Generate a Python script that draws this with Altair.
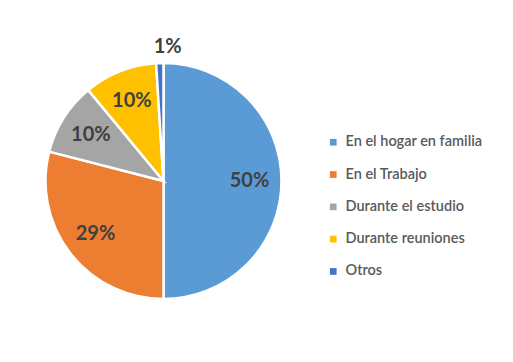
import altair as alt
import pandas as pd

categories = ["En el hogar en familia", "En el Trabajo", "Durante el estudio", "Durante reuniones", "Otros"]
values = [50, 29, 10, 10, 1]
labels = ["50%", "29%", "10%", "10%", "1%"]
colors = ["#5B9BD5", "#ED7D31", "#A5A5A5", "#FFC000", "#4472C4"]

df = pd.DataFrame({"cat": categories, "value": values, "label": labels, "idx": list(range(len(values)))})

FONT = "Lato"
cx, cy = 155.5, 173

base = alt.Chart(df).encode(
    theta=alt.Theta("value:Q", stack=True),
    order=alt.Order("idx:Q", sort="ascending"),
    x=alt.value(cx),
    y=alt.value(cy),
)

arcs = base.mark_arc(outerRadius=118, stroke="white", strokeWidth=2.5).encode(
    color=alt.Color(
        "cat:N",
        scale=alt.Scale(domain=categories, range=colors),
        sort=None,
        legend=alt.Legend(
            title=None,
            orient="none",
            legendX=318,
            legendY=127,
            symbolType="square",
            symbolSize=45,
            symbolStrokeWidth=0,
            labelFont=FONT,
            labelFontSize=14.5,
            labelColor="#595959",
            labelFontWeight=600,
            rowPadding=17.3,
            labelOffset=5,
        ),
    )
)

text_in = base.transform_filter("datum.value >= 5").mark_text(
    radius=86, font=FONT, fontSize=20, fontWeight="bold", color="#404040"
).encode(text="label:N")

text_out = base.transform_filter("datum.value < 5").mark_text(
    radius=134, font=FONT, fontSize=20, fontWeight="bold", color="#404040"
).encode(text="label:N")

chart = alt.layer(arcs, text_in, text_out).properties(
    width=497, height=346, padding=0,
    autosize=alt.AutoSizeParams(type="none"),
    background="white",
).configure_view(stroke=None)

chart.save("out.html", embed_options={"renderer": "svg", "actions": False})
